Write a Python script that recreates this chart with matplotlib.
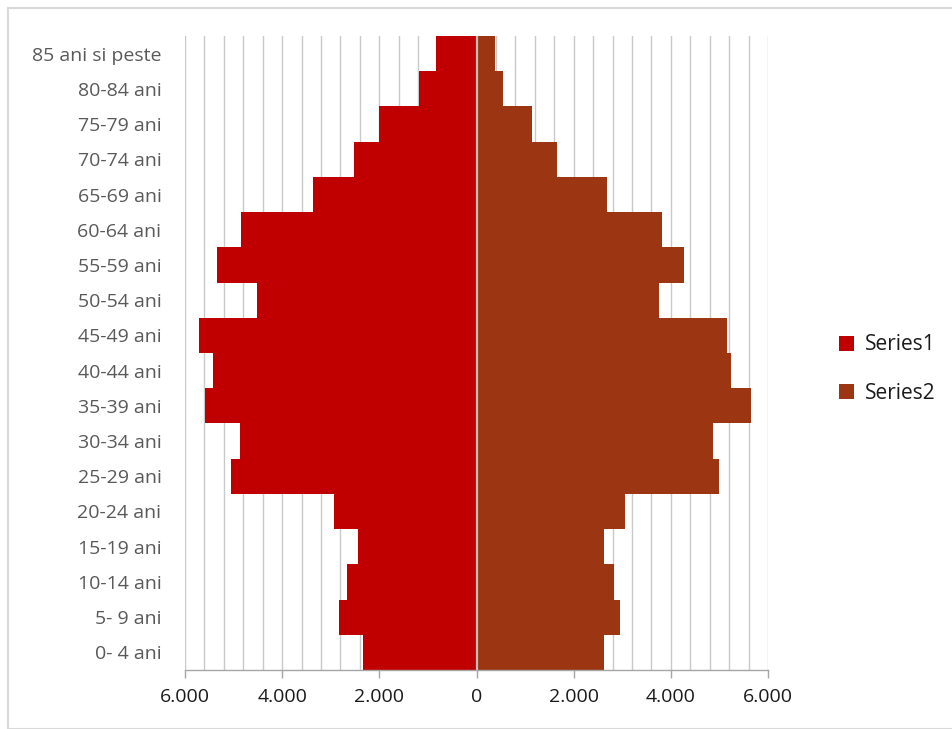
import matplotlib
matplotlib.use("Agg")
import matplotlib.pyplot as plt
from matplotlib.patches import Rectangle, Patch
from matplotlib.ticker import MultipleLocator, FuncFormatter
import numpy as np

plt.rcParams['font.family'] = ['Open Sans', 'DejaVu Sans']

# Age groups, youngest at the bottom
age_groups = ["0- 4 ani", "5- 9 ani", "10-14 ani", "15-19 ani", "20-24 ani",
              "25-29 ani", "30-34 ani", "35-39 ani", "40-44 ani", "45-49 ani",
              "50-54 ani", "55-59 ani", "60-64 ani", "65-69 ani", "70-74 ani",
              "75-79 ani", "80-84 ani", "85 ani si peste"]

# Series1 is plotted to the left (negative), Series2 to the right
series1 = [2330, 2825, 2660, 2433, 2942, 5052, 4873, 5595, 5430, 5704,
           4509, 5347, 4852, 3361, 2515, 2000, 1180, 830]
series2 = [2619, 2955, 2832, 2632, 3052, 4997, 4873, 5649, 5244, 5162,
           3766, 4268, 3828, 2680, 1649, 1134, 550, 371]

xticks = [-6000, -4000, -2000, 0, 2000, 4000, 6000]

color1 = "#C00000"
color2 = "#9C3612"

fig = plt.figure(figsize=(9.52, 7.29), dpi=100)
W, H = 952, 729
ax = fig.add_axes([185 / W, 1 - 670 / H, (768 - 185) / W, (670 - 36) / H])

y = np.arange(len(age_groups))
ax.barh(y, -np.array(series1), height=1.0, color=color1,
        linewidth=0, label="Series1", zorder=2)
ax.barh(y, series2, height=1.0, color=color2,
        linewidth=0, label="Series2", zorder=2)

ax.axvline(0, color="#bfbfbf", linewidth=1.6, zorder=3)

ax.set_xlim(-6000, 6000)
ax.set_ylim(-0.5, len(age_groups) - 0.5)

ax.set_xticks(xticks)
ax.xaxis.set_minor_locator(MultipleLocator(400))
ax.xaxis.set_major_formatter(FuncFormatter(lambda v, p: f"{abs(int(v)):,}".replace(",", ".")))
ax.grid(axis="x", which="both", color="#c9c9c9", linewidth=1.0, zorder=0)
ax.set_axisbelow(True)

ax.set_yticks(y)
ax.set_yticklabels(age_groups)

for s in ["top", "right", "left"]:
    ax.spines[s].set_visible(False)
ax.spines["bottom"].set_color("#a6a6a6")
ax.spines["bottom"].set_linewidth(1.0)

ax.tick_params(axis="x", which="major", direction="out", length=6, width=1.0,
               color="#a6a6a6", labelsize=14, labelcolor="#1a1a1a", pad=7)
ax.tick_params(axis="x", which="minor", length=0)
ax.tick_params(axis="y", length=0, labelsize=14, labelcolor="#595959", pad=17)

handles = [Patch(facecolor=color1, label="Series1"),
           Patch(facecolor=color2, label="Series2")]
fig.legend(handles=handles, loc="center left", bbox_to_anchor=(820 / W, 1 - 369 / H),
           frameon=False, fontsize=15, handlelength=0.75, handleheight=0.75,
           handletextpad=0.5, labelspacing=1.3, labelcolor="#1a1a1a")

# outer chart frame
fig.patches.append(Rectangle((7.5 / W, 0), 1, 1 - 7.5 / H, transform=fig.transFigure,
                             fill=False, edgecolor="#d9d9d9", linewidth=1.5))

fig.savefig("out.png", dpi=100)
